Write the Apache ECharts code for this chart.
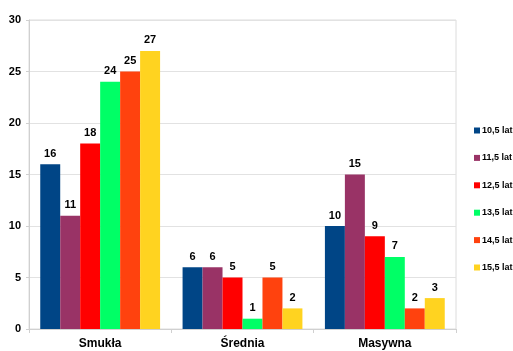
<!DOCTYPE html>
<html>
<head>
<meta charset="utf-8">
<script src="https://cdn.jsdelivr.net/npm/echarts@6/dist/echarts.min.js"></script>
<style>
  html, body { margin: 0; padding: 0; background: #ffffff; }
  #chart { width: 513px; height: 351px; }
</style>
</head>
<body>
<div id="chart"></div>
<script>
// Body build categories
const categories = ['Smukła', 'Średnia', 'Masywna'];

// Age groups
const seriesNames = ['10,5 lat', '11,5 lat', '12,5 lat', '13,5 lat', '14,5 lat', '15,5 lat'];

// Counts per age group, one value per category
const age105 = [16, 6, 10];
const age115 = [11, 6, 15];
const age125 = [18, 5, 9];
const age135 = [24, 1, 7];
const age145 = [25, 5, 2];
const age155 = [27, 2, 3];

const yTicks = [0, 5, 10, 15, 20, 25, 30];

const values = [age105, age115, age125, age135, age145, age155];
const colors = ['#004586', '#993366', '#ff0000', '#00ff66', '#ff420e', '#ffd320'];

const font = 'Liberation Sans, Arial, sans-serif';

const chart = echarts.init(document.getElementById('chart'), null, { renderer: 'canvas' });

chart.setOption({
  animation: false,
  backgroundColor: '#ffffff',
  color: colors,
  grid: {
    left: 29, right: 57, top: 20, bottom: 22,
    show: true, borderColor: '#dcdcdc', borderWidth: 1, backgroundColor: 'transparent'
  },
  legend: {
    orient: 'vertical',
    left: 474,
    top: 126,
    padding: 0,
    itemWidth: 6,
    itemHeight: 6,
    itemGap: 18.4,
    icon: 'rect',
    textStyle: { fontFamily: font, fontWeight: 'bold', fontSize: 9, color: '#000', padding: [0, 0, 0, -3] },
    data: seriesNames
  },
  xAxis: {
    type: 'category',
    data: categories,
    axisLine: { lineStyle: { color: '#d0d0d0' } },
    axisTick: { show: true, length: 4, lineStyle: { color: '#d0d0d0' } },
    axisLabel: { fontFamily: font, fontWeight: 'bold', fontSize: 12, color: '#000', margin: 9 }
  },
  yAxis: {
    type: 'value',
    min: 0, max: 30, interval: 5,
    axisLine: { show: true, lineStyle: { color: '#d0d0d0' } },
    axisTick: { show: true, length: 3, lineStyle: { color: '#d0d0d0' } },
    splitLine: { lineStyle: { color: '#e2e2e2' } },
    axisLabel: {
      fontFamily: font, fontWeight: 'bold', fontSize: 11, color: '#000', margin: 8,
      formatter: v => (yTicks.includes(v) ? String(v) : '')
    }
  },
  series: seriesNames.map((name, i) => ({
    name: name,
    type: 'bar',
    data: values[i],
    barGap: '0%',
    barCategoryGap: '15.8%',
    itemStyle: { color: colors[i] },
    label: {
      show: true, position: 'top', distance: 5,
      fontFamily: font, fontWeight: 'bold', fontSize: 11, color: '#000'
    }
  }))
});
</script>
</body>
</html>
